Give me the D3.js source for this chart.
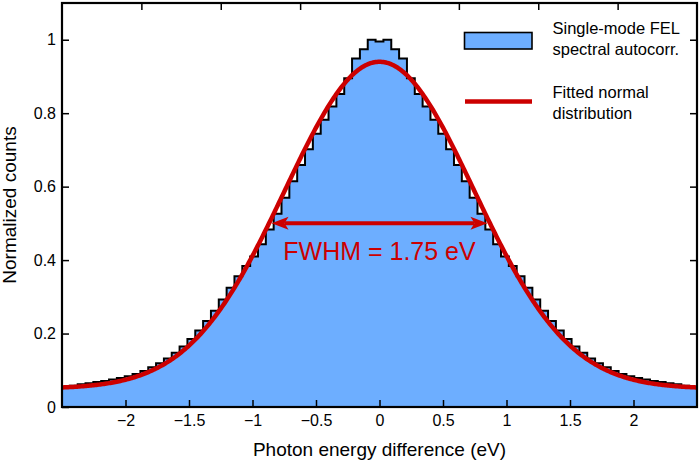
<!DOCTYPE html>
<html><head><meta charset="utf-8">
<script src="https://cdn.jsdelivr.net/npm/d3@7"></script>
<style>body{margin:0;background:#fff}svg{display:block}</style>
</head><body>
<svg id="chart" width="700" height="462"></svg>
<script>
// ---- data ----
const histValues = [
  0.055, 0.058, 0.062, 0.065, 0.068, 0.071, 0.075, 0.079, 0.084, 0.090,
  0.098, 0.108, 0.119, 0.132, 0.148, 0.165, 0.185, 0.208, 0.234, 0.262,
  0.293, 0.325, 0.356, 0.384, 0.410, 0.443, 0.483, 0.526, 0.570, 0.615,
  0.659, 0.702, 0.744, 0.782, 0.818, 0.852, 0.895, 0.949, 0.974, 1.000,
  0.995,
  1.000, 0.974, 0.949, 0.895, 0.852, 0.818, 0.782, 0.744, 0.702, 0.659,
  0.615, 0.570, 0.526, 0.483, 0.443, 0.410, 0.384, 0.356, 0.325, 0.293,
  0.262, 0.234, 0.208, 0.185, 0.165, 0.148, 0.132, 0.119, 0.108, 0.098,
  0.090, 0.084, 0.079, 0.075, 0.071, 0.068, 0.065, 0.062, 0.058, 0.055
];
const binRange = [-2.5, 2.5];
const fitMean = 0, fitSigma = 0.745, fitAmplitude = 0.89, fitOffset = 0.05;
const xDomain = [-2.5, 2.5];
const yDomain = [0, 1.1];
const xTicks = [-2, -1.5, -1, -0.5, 0, 0.5, 1, 1.5, 2];
const xTopTicks = [-1.875, -1.25, -0.625, 0, 0.625, 1.25, 1.875];
const yTicks = [0, 0.2, 0.4, 0.6, 0.8, 1];
const fwhmEnds = [-0.85, 0.85];
const fwhmLevel = 0.5;
const fwhmLabel = "FWHM = 1.75 eV";
const legendHist = ["Single-mode FEL", "spectral autocorr."];
const legendFit = ["Fitted normal", "distribution"];
const xTitle = "Photon energy difference (eV)";
const yTitle = "Normalized counts";

// ---- layout ----
const W = 700, H = 462;
const m = {left: 62, right: 3, top: 3, bottom: 55};
const FONT = "'Liberation Sans', Arial, Helvetica, sans-serif";
const BLUE = "#6daeff", RED = "#cc0000";

const svg = d3.select("#chart").style("font-family", FONT);
const x = d3.scaleLinear().domain(xDomain).range([m.left, W - m.right]);
const y = d3.scaleLinear().domain(yDomain).range([H - m.bottom, m.top]);

svg.append("defs").append("clipPath").attr("id", "clip")
  .append("rect").attr("x", m.left).attr("y", m.top)
  .attr("width", W - m.left - m.right).attr("height", H - m.top - m.bottom);

// histogram
const n = histValues.length;
const bw = (binRange[1] - binRange[0]) / n;
const steps = histValues.map((v, i) => [binRange[0] + i * bw, v]);
steps.push([binRange[1], histValues[n - 1]]);

const g = svg.append("g").attr("clip-path", "url(#clip)");
g.append("path").datum(steps)
  .attr("fill", BLUE)
  .attr("d", d3.area().curve(d3.curveStepAfter).x(d => x(d[0])).y0(y(0)).y1(d => y(d[1])));
g.append("path").datum(steps)
  .attr("fill", "none").attr("stroke", "#000").attr("stroke-width", 2)
  .attr("d", d3.line().curve(d3.curveStepAfter).x(d => x(d[0])).y(d => y(d[1])));

// fitted normal
const fitPts = d3.range(xDomain[0], xDomain[1] + 0.005, 0.01).map(t =>
  [t, fitOffset + fitAmplitude * Math.exp(-((t - fitMean) ** 2) / (2 * fitSigma * fitSigma))]);
g.append("path").datum(fitPts)
  .attr("fill", "none").attr("stroke", RED).attr("stroke-width", 4.5)
  .attr("stroke-linejoin", "round")
  .attr("d", d3.line().x(d => x(d[0])).y(d => y(d[1])));

// FWHM arrow
const ay = y(fwhmLevel), xl = x(fwhmEnds[0]), xr = x(fwhmEnds[1]);
const hl = 17, hw = 6.5;
svg.append("line").attr("x1", xl + hl - 4).attr("x2", xr - hl + 4)
  .attr("y1", ay).attr("y2", ay).attr("stroke", RED).attr("stroke-width", 4);
svg.append("path").attr("fill", RED)
  .attr("d", `M${xl},${ay} L${xl + hl},${ay - hw} L${xl + hl - 4},${ay} L${xl + hl},${ay + hw} Z`);
svg.append("path").attr("fill", RED)
  .attr("d", `M${xr},${ay} L${xr - hl},${ay - hw} L${xr - hl + 4},${ay} L${xr - hl},${ay + hw} Z`);
svg.append("text").attr("x", x(0)).attr("y", 260).attr("text-anchor", "middle")
  .attr("fill", RED).attr("font-size", 25).text(fwhmLabel);

// axes
const fmt = d3.format("~g");
function styleAxis(sel) {
  sel.select(".domain").remove();
  sel.selectAll(".tick line").attr("stroke", "#000").attr("stroke-width", 1.5);
  sel.selectAll("text").attr("fill", "#000").attr("font-size", 16).attr("font-family", FONT);
}
svg.append("g").attr("transform", `translate(0,${H - m.bottom})`)
  .call(d3.axisBottom(x).tickValues(xTicks).tickFormat(fmt).tickSize(-7).tickPadding(8))
  .call(styleAxis);
svg.append("g").attr("transform", `translate(0,${m.top})`)
  .call(d3.axisTop(x).tickValues(xTopTicks).tickFormat("").tickSize(-7))
  .call(styleAxis);
svg.append("g").attr("transform", `translate(${m.left},0)`)
  .call(d3.axisLeft(y).tickValues(yTicks).tickFormat(fmt).tickSize(-7).tickPadding(6))
  .call(styleAxis);
svg.append("g").attr("transform", `translate(${W - m.right},0)`)
  .call(d3.axisRight(y).tickValues(yTicks.slice(1)).tickFormat("").tickSize(-7))
  .call(styleAxis);

// frame
svg.append("rect").attr("x", m.left).attr("y", m.top)
  .attr("width", W - m.left - m.right).attr("height", H - m.top - m.bottom)
  .attr("fill", "none").attr("stroke", "#000").attr("stroke-width", 2.2);

// titles
svg.append("text").attr("x", (m.left + W - m.right) / 2).attr("y", 456)
  .attr("text-anchor", "middle").attr("font-size", 19).text(xTitle);
svg.append("text").attr("transform", `translate(16,${(m.top + H - m.bottom) / 2}) rotate(-90)`)
  .attr("text-anchor", "middle").attr("font-size", 19).text(yTitle);

// legend
const lg = svg.append("g").attr("font-size", 16.5);
lg.append("rect").attr("x", 464.5).attr("y", 32.5).attr("width", 67.5).attr("height", 16.5)
  .attr("fill", BLUE).attr("stroke", "#000").attr("stroke-width", 1.6);
lg.append("text").attr("x", 552.5).attr("y", 34.3).text(legendHist[0]);
lg.append("text").attr("x", 552.5).attr("y", 55).text(legendHist[1]);
lg.append("line").attr("x1", 465).attr("x2", 532).attr("y1", 101.5).attr("y2", 101.5)
  .attr("stroke", RED).attr("stroke-width", 4.3);
lg.append("text").attr("x", 552.5).attr("y", 98.3).text(legendFit[0]);
lg.append("text").attr("x", 552.5).attr("y", 119).text(legendFit[1]);
</script>
</body></html>
